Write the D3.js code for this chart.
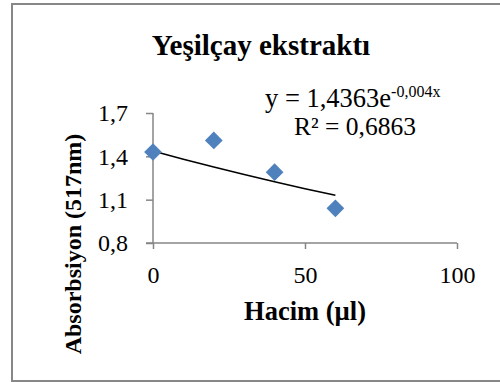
<!DOCTYPE html>
<html>
<head>
<meta charset="utf-8">
<script src="https://cdn.jsdelivr.net/npm/d3@7"></script>
<style>
  body { margin: 0; background: #fff; }
  text { font-family: "Liberation Serif", "Times New Roman", serif; fill: #000; }
</style>
</head>
<body>
<div id="chart"></div>
<script>
// volumes (µl) and absorbance readings
var volumes = [0, 20, 40, 60];
var absorbance = [1.43, 1.51, 1.29, 1.04];
var xTicks = [0, 50, 100];
var yTicks = [0.8, 1.1, 1.4, 1.7];
// exponential trendline as printed on the chart
var trendA = 1.4363, trendB = -0.004;
var trendX = [0, 10, 20, 30, 40, 50, 60];

var width = 500, height = 382;
var fmt = function(d) { return d3.format('.1f')(d).replace('.', ','); };

var svg = d3.select('#chart').append('svg')
  .attr('width', width)
  .attr('height', height);

// chart border
svg.append('rect')
  .attr('x', 12).attr('y', 4)
  .attr('width', 500).attr('height', 377)
  .attr('fill', 'none')
  .attr('stroke', '#878787')
  .attr('stroke-width', 2);

var x = d3.scaleLinear().domain([0, 100]).range([153, 457]);
var y = d3.scaleLinear().domain([0.8, 1.7]).range([243, 113]);

// y axis
var yAxis = svg.append('g')
  .attr('transform', 'translate(153,0)')
  .call(d3.axisLeft(y).tickValues(yTicks).tickFormat(fmt).tickSize(7).tickPadding(18));
yAxis.select('.domain').attr('stroke', '#868686').attr('stroke-width', 1.5).attr('d', 'M0,113V243');
yAxis.selectAll('.tick line').attr('stroke', '#868686').attr('stroke-width', 1.5);
yAxis.selectAll('.tick text')
  .attr('font-size', 24)
  .attr('font-family', 'Liberation Serif, serif')
  .attr('fill', '#000');

// x axis
var xAxis = svg.append('g')
  .attr('transform', 'translate(0,243)')
  .call(d3.axisBottom(x).tickValues(xTicks).tickFormat(d3.format('d')).tickSize(6).tickPadding(17));
xAxis.select('.domain').attr('stroke', '#868686').attr('stroke-width', 1.5).attr('d', 'M146,0H457');
xAxis.selectAll('.tick line').attr('stroke', '#868686').attr('stroke-width', 1.5);
xAxis.selectAll('.tick text')
  .attr('font-size', 24)
  .attr('font-family', 'Liberation Serif, serif')
  .attr('fill', '#000');

// trendline
var line = d3.line()
  .x(function(d) { return x(d); })
  .y(function(d) { return y(trendA * Math.exp(trendB * d)); });
svg.append('path')
  .datum(trendX)
  .attr('d', line)
  .attr('fill', 'none')
  .attr('stroke', '#000')
  .attr('stroke-width', 1.5);

// diamonds
svg.selectAll('path.pt')
  .data(volumes)
  .enter()
    .append('path')
    .attr('class', 'pt')
    .attr('d', d3.symbol().type(d3.symbolDiamond2).size(200))
    .attr('transform', function(d, i) {
      return 'translate(' + x(d) + ',' + y(absorbance[i]) + ')';
    })
    .attr('fill', '#4F81BD');

// title
svg.append('text')
  .attr('x', 261).attr('y', 55)
  .attr('text-anchor', 'middle')
  .attr('font-size', 29)
  .attr('font-weight', 'bold')
  .text('Yeşilçay ekstraktı');

// equation
var eq = svg.append('text')
  .attr('x', 265).attr('y', 107)
  .attr('font-size', 26.5);
eq.append('tspan').text('y = 1,4363e');
eq.append('tspan').attr('dy', -10).attr('font-size', 16).text('-0,004x');

svg.append('text')
  .attr('x', 355).attr('y', 135)
  .attr('text-anchor', 'middle')
  .attr('font-size', 25.5)
  .text('R² = 0,6863');

// axis titles
svg.append('text')
  .attr('x', 305).attr('y', 320)
  .attr('text-anchor', 'middle')
  .attr('font-size', 26.5)
  .attr('font-weight', 'bold')
  .text('Hacim (µl)');

svg.append('text')
  .attr('transform', 'translate(81,244) rotate(-90)')
  .attr('text-anchor', 'middle')
  .attr('font-size', 24)
  .attr('font-weight', 'bold')
  .text('Absorbsiyon (517nm)');
</script>
</body>
</html>
